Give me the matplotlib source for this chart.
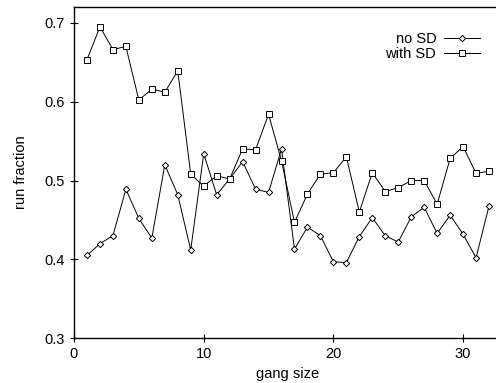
import matplotlib

matplotlib.use("Agg")
import matplotlib.pyplot as plt

plt.rcParams["font.family"] = ["Liberation Sans", "DejaVu Sans"]

gang_size = list(range(1, 33))
no_sd = [0.405, 0.420, 0.430, 0.489, 0.452, 0.427, 0.520, 0.482,
         0.412, 0.534, 0.482, 0.502, 0.524, 0.489, 0.485, 0.540,
         0.413, 0.441, 0.430, 0.397, 0.396, 0.429, 0.453, 0.430,
         0.422, 0.454, 0.466, 0.433, 0.456, 0.432, 0.402, 0.468]
with_sd = [0.653, 0.695, 0.666, 0.670, 0.602, 0.616, 0.612, 0.639,
           0.508, 0.493, 0.506, 0.502, 0.540, 0.539, 0.584, 0.525,
           0.447, 0.483, 0.508, 0.510, 0.530, 0.460, 0.510, 0.486,
           0.491, 0.500, 0.500, 0.470, 0.528, 0.543, 0.509, 0.512]

W, H = 496, 383
fig = plt.figure(figsize=(W / 100, H / 100), dpi=100)
# plot area runs past the right edge, so no right border shows
x0, x1 = 74, 74 + 33 * 12.97
y0, y1 = 338.3, 7
ax = fig.add_axes([x0 / W, 1 - y0 / H, (x1 - x0) / W, (y0 - y1) / H])

ax.plot(gang_size, no_sd, color="black", lw=0.7, marker="D", ms=3.2,
        mfc="white", mec="black", mew=0.7, label="no SD")
ax.plot(gang_size, with_sd, color="black", lw=0.7, marker="s", ms=4.6,
        mfc="white", mec="black", mew=0.7, label="with SD")

ax.set_xlim(0, 33)
ax.set_ylim(0.3, 0.72)
ax.set_xticks([0, 10, 20, 30])
ax.set_yticks([0.3, 0.4, 0.5, 0.6, 0.7])
ax.set_yticklabels(["0.3", "0.4", "0.5", "0.6", "0.7"])
ax.tick_params(direction="inout", length=6, width=0.8, labelsize=10.5,
               colors="black")
for s in ax.spines.values():
    s.set_linewidth(1.0)

ax.set_xlabel("gang size", fontsize=10.5, labelpad=4)
ax.set_ylabel("run fraction", fontsize=10.5, labelpad=12)

ax.legend(loc="upper right", bbox_to_anchor=(480 / W, 1 - 32 / H),
          bbox_transform=fig.transFigure, frameon=False, markerfirst=False,
          handlelength=2.5, handletextpad=0.5, labelspacing=0.05,
          fontsize=10.5, borderaxespad=0, borderpad=0)

fig.savefig("out.png", dpi=100)
